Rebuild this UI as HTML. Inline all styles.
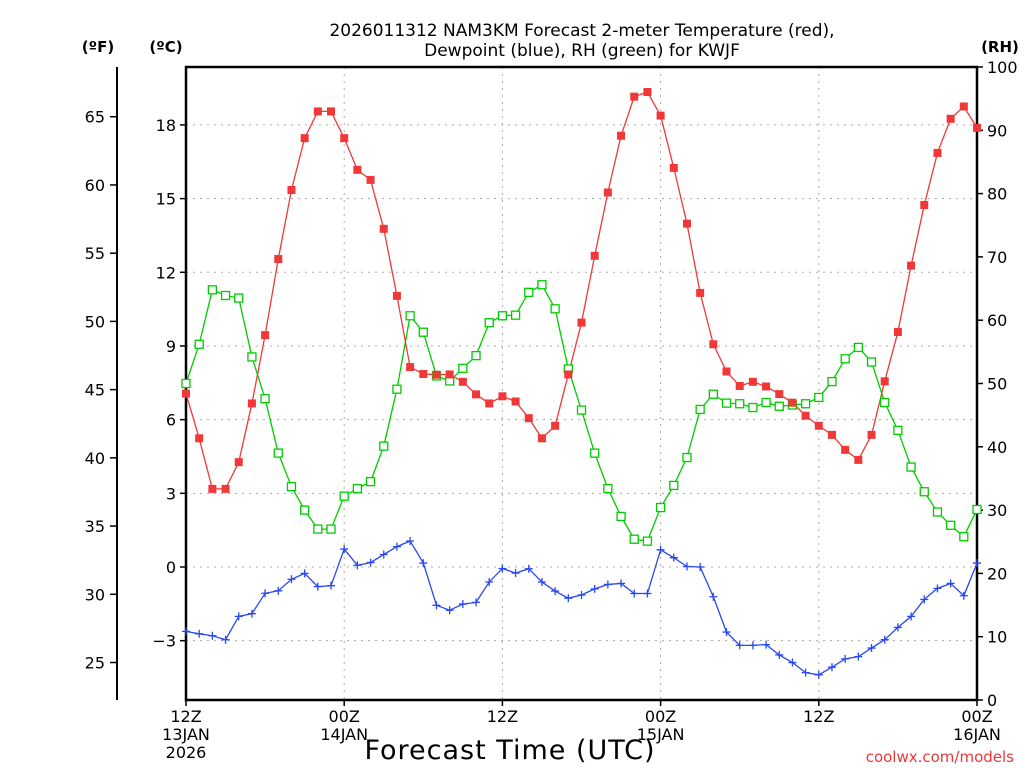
<!DOCTYPE html>
<html><head><meta charset="utf-8">
<style>
html,body{margin:0;padding:0;background:#fff;}
svg{display:block;font-family:"DejaVu Sans","Liberation Sans",sans-serif;}
</style></head>
<body>
<svg id="chart" width="1024" height="768" viewBox="0 0 1024 768" xmlns="http://www.w3.org/2000/svg">
<rect x="0" y="0" width="1024" height="768" fill="#fff"/>
<text x="582" y="36" font-size="17" text-anchor="middle" fill="#000">2026011312 NAM3KM Forecast 2-meter Temperature (red),</text>
<text x="582" y="56" font-size="17" text-anchor="middle" fill="#000">Dewpoint (blue), RH (green) for KWJF</text>
<text x="98" y="52" font-size="15" font-weight="bold" text-anchor="middle">(ºF)</text>
<text x="166" y="52" font-size="15" font-weight="bold" text-anchor="middle">(ºC)</text>
<text x="1000" y="52" font-size="15" font-weight="bold" text-anchor="middle">(RH)</text>
<g id="grid"></g>
<g id="axes"></g>
<g id="series"></g>
<text x="510" y="759" font-size="27" text-anchor="middle" letter-spacing="1">Forecast Time (UTC)</text>
<text x="1014" y="762" font-size="15" fill="#e8383c" text-anchor="end">coolwx.com/models</text>
</svg>
<script>
const hours = Array.from({length:61},(_,i)=>i);
const tempC = [7.06,5.24,3.18,3.18,4.27,6.66,9.44,12.54,15.35,17.46,18.55,18.55,17.46,16.17,15.76,13.77,11.04,8.14,7.86,7.83,7.84,7.54,7.03,6.66,6.95,6.74,6.06,5.24,5.75,7.84,9.95,12.67,15.25,17.56,19.15,19.34,18.38,16.25,13.98,11.16,9.07,7.96,7.37,7.54,7.35,7.04,6.69,6.16,5.75,5.38,4.77,4.36,5.38,7.56,9.57,12.27,14.74,16.86,18.25,18.75,17.88];
const dewC = [-2.62,-2.72,-2.8,-2.96,-2.01,-1.9,-1.07,-0.97,-0.5,-0.26,-0.8,-0.76,0.73,0.07,0.18,0.51,0.83,1.06,0.16,-1.56,-1.76,-1.51,-1.44,-0.61,-0.06,-0.25,-0.07,-0.61,-0.98,-1.27,-1.14,-0.89,-0.71,-0.67,-1.08,-1.08,0.7,0.38,0.02,0.0,-1.21,-2.65,-3.19,-3.19,-3.16,-3.58,-3.89,-4.3,-4.39,-4.08,-3.74,-3.65,-3.3,-2.96,-2.46,-2.01,-1.32,-0.87,-0.67,-1.17,0.16];
const rh = [50.0,56.2,64.8,63.9,63.5,54.2,47.6,39.0,33.7,30.0,27.0,27.0,32.2,33.4,34.5,40.1,49.1,60.7,58.1,51.2,50.4,52.4,54.4,59.6,60.7,60.8,64.4,65.6,61.8,52.3,45.8,39.0,33.4,29.0,25.4,25.1,30.4,33.9,38.3,45.9,48.3,46.9,46.8,46.2,47.0,46.4,46.6,46.8,47.8,50.3,53.9,55.7,53.4,47.0,42.6,36.8,32.9,29.7,27.6,25.8,30.1];
const celsiusTicks = [-3,0,3,6,9,12,15,18];
const fahrenheitTicks = [25,30,35,40,45,50,55,60,65];
const rhTicks = [0,10,20,30,40,50,60,70,80,90,100];
const xTickHours = [0,12,24,36,48,60];
const xTickLabels = [["12Z","13JAN","2026"],["00Z","14JAN"],["12Z"],["00Z","15JAN"],["12Z"],["00Z","16JAN"]];

const L=186,R=977,T=67,B=700;
const xs = h => L + h*(R-L)/60;
const yC = c => 567 - c*24.56;
const yF = f => yC((f-32)*5/9);
const yRH = v => B - v*(B-T)/100;
const NS="http://www.w3.org/2000/svg";
function mk(tag, attrs, parent){const e=document.createElementNS(NS,tag);for(const k in attrs)e.setAttribute(k,attrs[k]);parent.appendChild(e);return e;}
const grid=document.getElementById('grid'), axes=document.getElementById('axes'), ser=document.getElementById('series');

celsiusTicks.forEach(c=>{
  const g=mk('line',{x1:L,x2:R,y1:yC(c),y2:yC(c),stroke:'#aaa','stroke-width':1,'stroke-dasharray':'2,5'},grid);
  
  
  const t=mk('line',{x1:L-6,x2:L,y1:yC(c),y2:yC(c),stroke:'#000','stroke-width':1.5},axes);
  
  
  const lb=mk('text',{x:L-10,y:yC(c)+6,'font-size':16,'text-anchor':'end'},axes);
  lb.textContent = c<0 ? '\u2212'+Math.abs(c) : String(c);
  
  
});
xTickHours.forEach((h,i)=>{
  if(h>0&&h<60){
    const g=mk('line',{x1:xs(h),x2:xs(h),y1:T,y2:B,stroke:'#aaa','stroke-width':1,'stroke-dasharray':'2,5'},grid);
    
    
  }
  const t=mk('line',{x1:xs(h),x2:xs(h),y1:B,y2:B+6,stroke:'#000','stroke-width':1.5},axes);
  
  
  xTickLabels[i].forEach((s,j)=>{
    const lb=mk('text',{x:xs(h),y:B+22+j*18,'font-size':16,'text-anchor':'middle'},axes);
    lb.textContent=s;
    
    
  });
});
fahrenheitTicks.forEach(f=>{
  const t=mk('line',{x1:110,x2:117,y1:yF(f),y2:yF(f),stroke:'#000','stroke-width':1.5},axes);
  
  
  const lb=mk('text',{x:105,y:yF(f)+6,'font-size':16,'text-anchor':'end'},axes);
  lb.textContent=String(f);
  
  
});
rhTicks.forEach(v=>{
  const t=mk('line',{x1:R,x2:R+6,y1:yRH(v),y2:yRH(v),stroke:'#000','stroke-width':1.5},axes);
  
  
  const lb=mk('text',{x:R+10,y:yRH(v)+6,'font-size':16,'text-anchor':'start'},axes);
  lb.textContent=String(v);
  
  
});
const fax=mk('line',{x1:117,x2:117,y1:T,y2:B,stroke:'#000','stroke-width':2},axes);


const frame=mk('rect',{x:L,y:T,width:R-L,height:B-T,fill:'none',stroke:'#000','stroke-width':2.5},axes);



function line(vals,yfn,color,name){
  const p=mk('polyline',{points:vals.map((v,i)=>xs(hours[i])+','+yfn(v)).join(' '),fill:'none',stroke:color,'stroke-width':1.3},ser);
  
  
}
line(rh,yRH,'#00cc00','rh-line');
line(tempC,yC,'#f03838','temperature-line');
line(dewC,yC,'#2848f0','dewpoint-line');
rh.forEach((v,i)=>{
  const m=mk('rect',{x:xs(hours[i])-4,y:yRH(v)-4,width:8,height:8,fill:'#fff',stroke:'#00cc00','stroke-width':1.3},ser);
  
  
});
tempC.forEach((v,i)=>{
  const m=mk('rect',{x:xs(hours[i])-4,y:yC(v)-4,width:8,height:8,fill:'#f03838'},ser);
  
  
});
dewC.forEach((v,i)=>{
  const x=xs(hours[i]),y=yC(v);
  const m=mk('path',{d:`M${x-4},${y}H${x+4}M${x},${y-4}V${y+4}`,stroke:'#2848f0','stroke-width':1.3,fill:'none'},ser);
  
  
});
</script>
</body></html>
